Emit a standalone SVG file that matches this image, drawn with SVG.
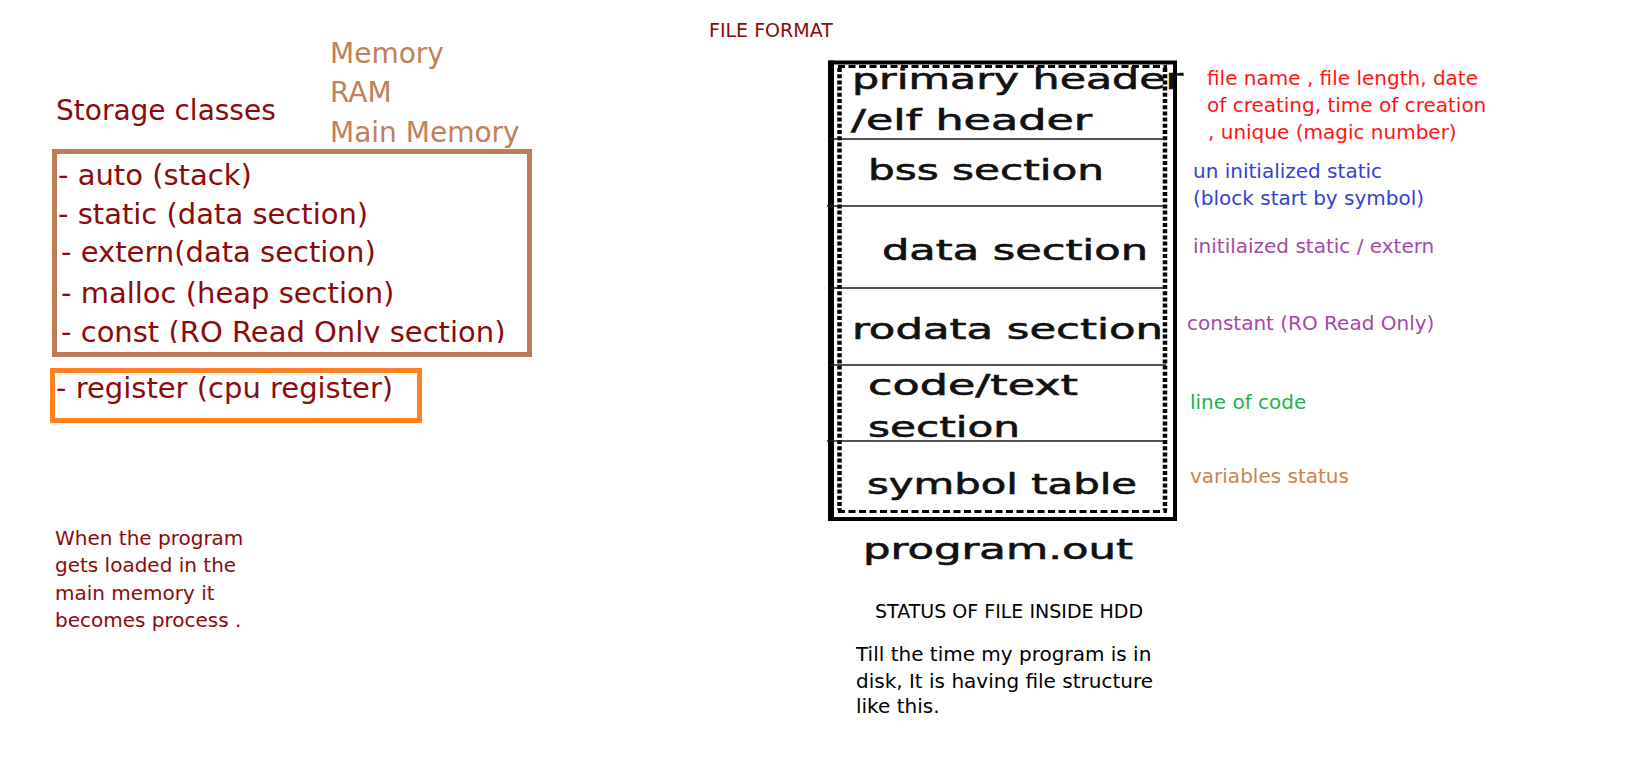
<svg xmlns="http://www.w3.org/2000/svg" width="1634" height="762" viewBox="0 0 1634 762">
<style>
text{font-family:"DejaVu Sans","Liberation Sans",sans-serif;}
.dr{fill:#8B0A0A;}
.mem{fill:#C08058;font-size:28px;}
.big{font-size:29px;}
.sec{font-size:28px;fill:#111;stroke:#111;stroke-width:0.6;}
.ann{font-size:20px;}
.note{font-size:20px;}
.hdr{font-size:19px;}
.div{stroke:#1a1a1a;stroke-width:1.6;fill:none;}
.dash{stroke:#000;fill:none;stroke-width:4.5;stroke-dasharray:4 2.2;}
.hdash{stroke:#000;fill:none;stroke-width:3;stroke-dasharray:7 3.5;}
</style>
<defs>
<clipPath id="constClip"><rect x="0" y="300" width="600" height="43"/></clipPath>
</defs>
<rect width="1634" height="762" fill="#fff"/>

<g id="title-file-format">
<text class="dr hdr" x="709" y="37">FILE FORMAT</text>
</g>

<g id="memory-labels">
<text class="mem" x="330" y="63">Memory</text>
<text class="mem" x="330" y="102">RAM</text>
<text class="mem" x="330" y="142">Main Memory</text>
</g>

<g id="storage-classes-title">
<text class="dr" style="font-size:28px" x="56" y="120">Storage classes</text>
</g>

<g id="memory-storage-box">
<rect x="54.5" y="151.5" width="475" height="203" fill="none" stroke="#BE7D56" stroke-width="5"/>
<text class="dr big" x="58" y="185">- auto (stack)</text>
<text class="dr big" x="58" y="224">- static (data section)</text>
<text class="dr big" x="61" y="262">- extern(data section)</text>
<text class="dr big" x="61" y="303">- malloc (heap section)</text>
<text class="dr big" x="61" y="342" clip-path="url(#constClip)">- const (RO Read Only section)</text>
</g>

<g id="register-box">
<rect x="52.5" y="370.5" width="367" height="50" fill="none" stroke="#FF8124" stroke-width="5"/>
<text class="dr big" x="56" y="398">- register (cpu register)</text>
</g>

<g id="process-note">
<text class="dr note" x="55" y="545">When the program</text>
<text class="dr note" x="55" y="572">gets loaded in the</text>
<text class="dr note" x="55" y="600">main memory it</text>
<text class="dr note" x="55" y="627">becomes process .</text>
</g>

<g id="file-structure">
<rect x="831" y="62.5" width="344" height="456.5" fill="none" stroke="#000" stroke-width="4"/>
<line x1="831" y1="60.5" x2="831" y2="521" stroke="#000" stroke-width="6"/>
<path class="dash" d="M839.5 68 V510"/>
<path class="dash" d="M1165 68 V510"/>
<path class="hdash" d="M838 66.5 H1167 M838 511.5 H1167"/>
<line class="div" x1="830" y1="139" x2="1166" y2="139"/>
<line class="div" x1="827" y1="206" x2="1166" y2="206"/>
<line class="div" x1="830" y1="288" x2="1166" y2="288"/>
<line class="div" x1="830" y1="365" x2="1166" y2="365"/>
<line class="div" x1="827" y1="441" x2="1166" y2="441"/>
<text class="sec" x="852" y="89" textLength="331" lengthAdjust="spacingAndGlyphs">primary header</text>
<text class="sec" x="851" y="130" textLength="241" lengthAdjust="spacingAndGlyphs">/elf header</text>
<text class="sec" x="868" y="180" textLength="236" lengthAdjust="spacingAndGlyphs">bss section</text>
<text class="sec" x="882" y="260" textLength="266" lengthAdjust="spacingAndGlyphs">data section</text>
<text class="sec" x="852" y="339" textLength="311" lengthAdjust="spacingAndGlyphs">rodata section</text>
<text class="sec" x="868" y="395" textLength="210" lengthAdjust="spacingAndGlyphs">code/text</text>
<text class="sec" x="868" y="437" textLength="152" lengthAdjust="spacingAndGlyphs">section</text>
<text class="sec" x="867" y="494" textLength="270" lengthAdjust="spacingAndGlyphs">symbol table</text>
<text class="sec" x="863" y="559" textLength="270" lengthAdjust="spacingAndGlyphs">program.out</text>
</g>

<g id="annotations">
<text class="ann" fill="#FF1414" x="1207" y="85">file name , file length, date</text>
<text class="ann" fill="#FF1414" x="1207" y="112">of creating, time of creation</text>
<text class="ann" fill="#FF1414" x="1208" y="139">, unique (magic number)</text>
<text class="ann" fill="#3442D2" x="1193" y="178">un initialized static</text>
<text class="ann" fill="#3442D2" x="1193" y="205">(block start by symbol)</text>
<text class="ann" fill="#A548A8" x="1193" y="253">initilaized static / extern</text>
<text class="ann" fill="#A548A8" x="1187" y="330">constant (RO Read Only)</text>
<text class="ann" fill="#22B04A" x="1190" y="409">line of code</text>
<text class="ann" fill="#C8844C" x="1190" y="483">variables status</text>
</g>

<g id="hdd-status">
<text class="hdr" fill="#000" x="875" y="618">STATUS OF FILE INSIDE HDD</text>
<text class="note" fill="#000" x="856" y="661">Till the time my program is in</text>
<text class="note" fill="#000" x="856" y="688">disk, It is having file structure</text>
<text class="note" fill="#000" x="856" y="713">like this.</text>
</g>
</svg>
